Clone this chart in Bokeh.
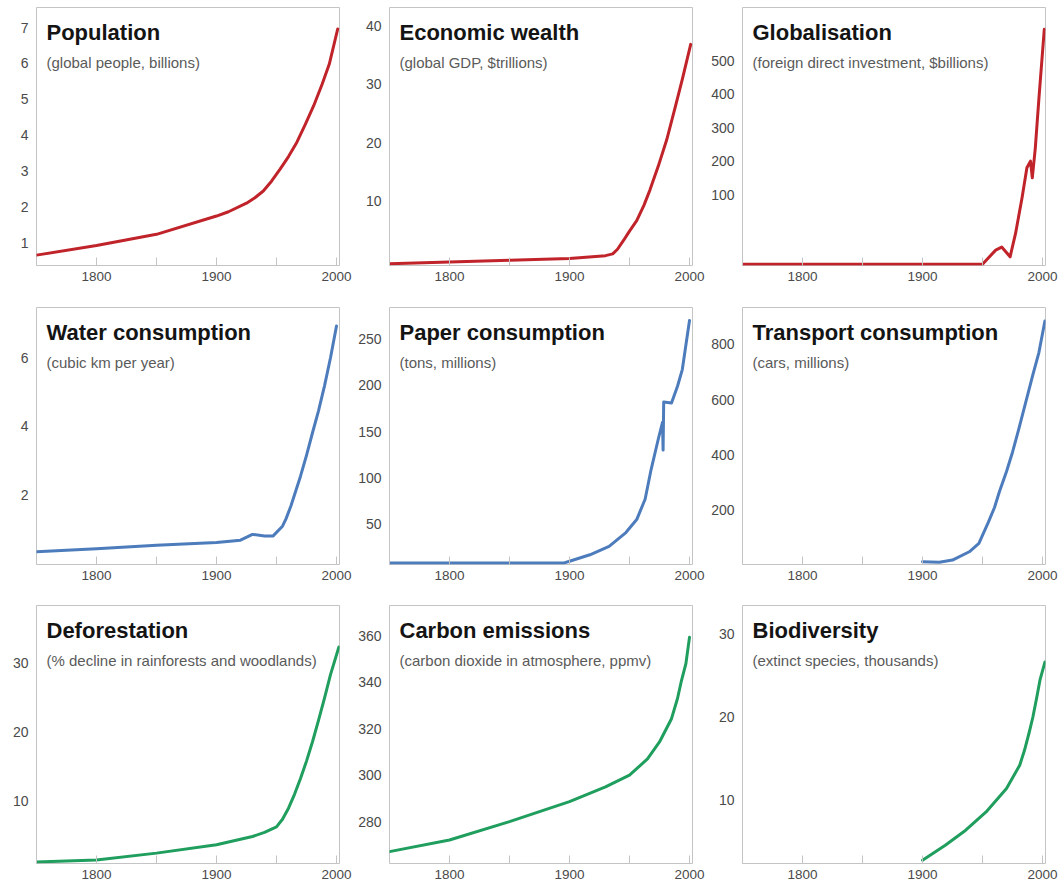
from bokeh.plotting import figure
from bokeh.layouts import gridplot
from bokeh.models import FixedTicker, Label, Range1d
from bokeh.embed import file_html
from bokeh.resources import INLINE

RED = "#c0242a"
BLUE = "#4d7cbc"
GREEN = "#1f9e5e"

x_ticks = [1800, 1900, 2000]
x_minor = [1750, 1850, 1950]

pop_years = [1750, 1800, 1850, 1900, 1910, 1925, 1932, 1939, 1946, 1953, 1960, 1967, 1974, 1981, 1988, 1994, 2001]
pop_values = [0.65, 0.92, 1.23, 1.74, 1.86, 2.10, 2.25, 2.44, 2.72, 3.05, 3.40, 3.80, 4.30, 4.82, 5.42, 5.98, 6.96]
pop_ticks = [1, 2, 3, 4, 5, 6, 7]

eco_years = [1750, 1800, 1850, 1900, 1930, 1936, 1940, 1945, 1950, 1956, 1962, 1967, 1974, 1981, 1988, 1994, 2001]
eco_values = [-0.7, -0.4, -0.1, 0.2, 0.7, 1.0, 1.8, 3.3, 4.9, 6.7, 9.3, 11.9, 16.0, 20.5, 26.0, 30.8, 36.8]
eco_ticks = [10, 20, 30, 40]

glob_years = [1750, 1950, 1961, 1966, 1973, 1977.5, 1983, 1987, 1990, 1991.5, 1994, 1997, 2001.5]
glob_values = [-108, -108, -66, -57, -86, -17, 91, 180, 200, 150, 239, 387, 594]
glob_ticks = [100, 200, 300, 400, 500]

water_years = [1750, 1800, 1850, 1900, 1920, 1930, 1940, 1947, 1955, 1958, 1962, 1970, 1975, 1980, 1985, 1990, 1995, 2000]
water_values = [0.33, 0.42, 0.52, 0.60, 0.67, 0.84, 0.79, 0.79, 1.08, 1.30, 1.67, 2.54, 3.15, 3.81, 4.45, 5.18, 6.00, 6.93]
water_ticks = [2, 4, 6]

paper_years = [1750, 1895, 1900, 1917, 1933, 1947, 1956, 1963, 1968, 1974, 1977.5, 1978, 1978.5, 1985, 1990, 1994, 2000]
paper_values = [8, 8, 10, 17, 26, 41, 55, 77, 109, 142, 160, 130, 182, 181, 199, 217, 270]
paper_ticks = [50, 100, 150, 200, 250]

transport_years = [1900, 1914, 1925, 1939, 1947, 1955, 1960, 1964, 1970, 1975, 1980, 1986, 1992, 1997, 2002]
transport_values = [14, 12, 20, 50, 80, 158, 210, 266, 340, 410, 490, 590, 690, 770, 884]
transport_ticks = [200, 400, 600, 800]

defor_years = [1750, 1800, 1850, 1900, 1930, 1940, 1950, 1955, 1960, 1965, 1970, 1975, 1980, 1985, 1990, 1995, 2002]
defor_values = [1.2, 1.5, 2.5, 3.7, 4.9, 5.5, 6.3, 7.4, 9.0, 11.0, 13.3, 15.8, 18.6, 21.7, 24.9, 28.3, 32.3]
defor_ticks = [10, 20, 30]

carbon_years = [1750, 1800, 1850, 1900, 1930, 1950, 1965, 1975, 1985, 1990, 1993, 1997, 2000]
carbon_values = [267.1, 272.1, 280, 288.6, 295, 300, 307, 314.3, 324.3, 333, 340, 348, 359.3]
carbon_ticks = [280, 300, 320, 340, 360]

bio_years = [1900, 1919, 1936, 1953, 1970, 1981, 1985, 1989, 1992, 1995, 1998, 2002]
bio_values = [2.8, 4.6, 6.4, 8.6, 11.4, 14.2, 16.0, 18.2, 20.0, 22.2, 24.5, 26.6]
bio_ticks = [10, 20, 30]

panels = [
    ("Population", "(global people, billions)", pop_years, pop_values, RED, (0.36, 7.56), pop_ticks),
    ("Economic wealth", "(global GDP, $trillions)", eco_years, eco_values, RED, (-0.98, 43.1), eco_ticks),
    ("Globalisation", "(foreign direct investment, $billions)", glob_years, glob_values, RED, (-112, 659), glob_ticks),
    ("Water consumption", "(cubic km per year)", water_years, water_values, BLUE, (-0.04, 7.47), water_ticks),
    ("Paper consumption", "(tons, millions)", paper_years, paper_values, BLUE, (6.5, 284), paper_ticks),
    ("Transport consumption", "(cars, millions)", transport_years, transport_values, BLUE, (4, 933), transport_ticks),
    ("Deforestation", "(% decline in rainforests and woodlands)", defor_years, defor_values, GREEN, (1.0, 38.3), defor_ticks),
    ("Carbon emissions", "(carbon dioxide in atmosphere, ppmv)", carbon_years, carbon_values, GREEN, (262, 373), carbon_ticks),
    ("Biodiversity", "(extinct species, thousands)", bio_years, bio_values, GREEN, (2.4, 33.4), bio_ticks),
]

col_left = [36, 36, 36]
col_right = [14, 14, 15]
row_top = [7, 1, 0]
row_frame = [258, 257, 258]
row_bottom = [41, 41, 20]

FONT = "Liberation Sans"
figs = []
for i, (title, sub, xs, ys, color, yr, yt) in enumerate(panels):
    r, c = divmod(i, 3)
    p = figure(frame_width=303, frame_height=row_frame[r],
               min_border_left=col_left[c], min_border_right=col_right[c],
               min_border_top=row_top[r], min_border_bottom=row_bottom[r],
               x_range=Range1d(1750, 2002.5), y_range=Range1d(*yr),
               output_backend="svg", toolbar_location=None, tools="")
    p.outline_line_color = "#c4c4c4"
    p.outline_line_width = 1
    p.xgrid.visible = False
    p.ygrid.visible = False
    p.background_fill_color = "white"
    p.border_fill_color = "white"

    xa = p.xaxis[0]
    xa.ticker = FixedTicker(ticks=x_ticks, minor_ticks=x_minor)
    xa.axis_line_color = None
    xa.major_tick_in = 8
    xa.major_tick_out = 0
    xa.minor_tick_in = 8
    xa.minor_tick_out = 0
    xa.major_tick_line_color = "#c4c4c4"
    xa.minor_tick_line_color = "#c4c4c4"
    xa.major_label_standoff = 6
    xa.major_label_text_font = FONT
    xa.major_label_text_font_size = "13.5px"
    xa.major_label_text_color = "#4a4a4a"

    ya = p.yaxis[0]
    ya.ticker = FixedTicker(ticks=yt, minor_ticks=[])
    ya.axis_line_color = None
    ya.major_tick_in = 0
    ya.major_tick_out = 0
    ya.minor_tick_line_color = None
    ya.major_label_standoff = 8
    ya.major_label_text_font = FONT
    ya.major_label_text_font_size = "14px"
    ya.major_label_text_color = "#4a4a4a"

    p.line(xs, ys, line_color=color, line_width=3, line_join="round", line_cap="round")

    p.add_layout(Label(x=1750, y=yr[1], x_offset=10, y_offset=-12, text=title,
                       text_font=FONT, text_font_style="bold", text_font_size="22px",
                       text_baseline="top", text_color="#141414"))
    p.add_layout(Label(x=1750, y=yr[1], x_offset=10, y_offset=-46, text=sub,
                       text_font=FONT, text_font_size="15px",
                       text_baseline="top", text_color="#5a5a5a"))
    figs.append(p)

grid = gridplot([figs[0:3], figs[3:6], figs[6:9]], toolbar_location=None)

open("out.html", "w").write(file_html(grid, INLINE))
